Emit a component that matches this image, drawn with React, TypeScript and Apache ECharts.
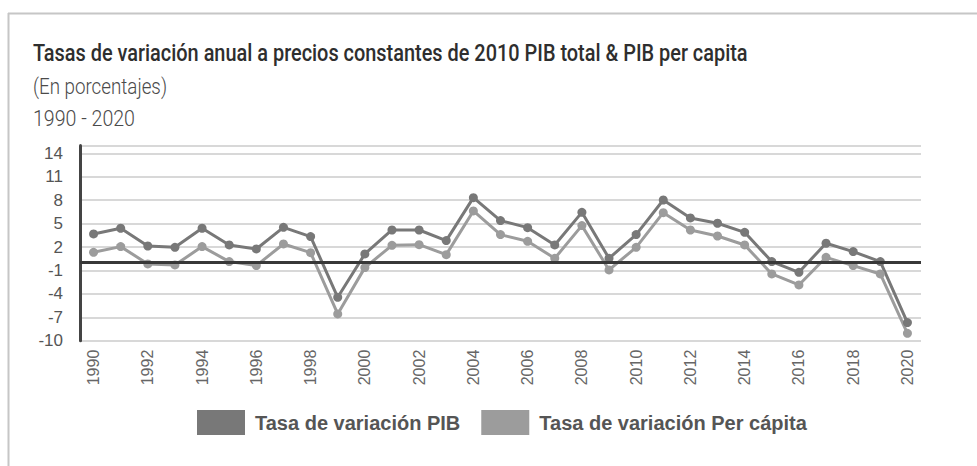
import React, { useEffect, useRef } from "react";
import * as echarts from "echarts";

const years = [
  "1990", "1991", "1992", "1993", "1994", "1995", "1996", "1997", "1998", "1999",
  "2000", "2001", "2002", "2003", "2004", "2005", "2006", "2007", "2008", "2009",
  "2010", "2011", "2012", "2013", "2014", "2015", "2016", "2017", "2018", "2019", "2020",
];
const pib = [
  3.67, 4.4, 2.13, 1.96, 4.4, 2.26, 1.75, 4.52, 3.33, -4.44,
  1.11, 4.18, 4.18, 2.82, 8.32, 5.38, 4.48, 2.26, 6.44, 0.55,
  3.59, 8.02, 5.72, 5.04, 3.88, 0.13, -1.24, 2.48, 1.41, 0.13, -7.68,
];
const perCapita = [
  1.32, 2.05, -0.17, -0.3, 2.05, 0.13, -0.38, 2.39, 1.28, -6.57,
  -0.64, 2.22, 2.3, 1.02, 6.62, 3.59, 2.73, 0.55, 4.74, -0.94,
  1.96, 6.4, 4.18, 3.41, 2.26, -1.45, -2.86, 0.68, -0.38, -1.45, -9.05,
];
const seriesNames = ["Tasa de variación PIB", "Tasa de variación Per cápita"];
const titleText = "Tasas de variación anual a precios constantes de 2010 PIB total & PIB per capita";
const subtitle1 = "(En porcentajes)";
const subtitle2 = "1990 - 2020";

function fitScale(text: string, font: string, target: number): number {
  const c = document.createElement("canvas");
  const ctx = c.getContext("2d");
  if (!ctx) return 1;
  ctx.font = font;
  const w = ctx.measureText(text).width;
  return w > 0 ? target / w : 1;
}

export default function App() {
  const ref = useRef<HTMLDivElement>(null);
  useEffect(() => {
    if (!ref.current) return;
    const chart = echarts.init(ref.current, null, { renderer: "svg" });
    const titleFont = "500 23px Roboto";
    const subFont = "300 22px Roboto";
    const option: any = {
      animation: false,
      backgroundColor: "#ffffff",
      graphic: [
        { type: "line", shape: { x1: 8, y1: 13.5, x2: 977, y2: 13.5 }, style: { stroke: "#c6c6c6", lineWidth: 2 } },
        { type: "line", shape: { x1: 8.5, y1: 13, x2: 8.5, y2: 466 }, style: { stroke: "#c6c6c6", lineWidth: 2 } },
        {
          type: "text", x: 33, y: 53, scaleX: fitScale(titleText, titleFont, 715),
          style: { text: titleText, font: titleFont, fill: "#2e2e2e", verticalAlign: "middle" },
        },
        {
          type: "text", x: 33, y: 86, scaleX: fitScale(subtitle1, subFont, 134),
          style: { text: subtitle1, font: subFont, fill: "#4a4a4a", verticalAlign: "middle" },
        },
        {
          type: "text", x: 33, y: 119, scaleX: fitScale(subtitle2, subFont, 102),
          style: { text: subtitle2, font: subFont, fill: "#4a4a4a", verticalAlign: "middle" },
        },
      ],
      legend: {
        left: 192,
        top: 405,
        itemWidth: 48,
        itemHeight: 25,
        itemGap: 21,
        icon: "rect",
        data: seriesNames,
        textStyle: {
          fontFamily: "Liberation Sans, Arial",
          fontWeight: "bold",
          fontSize: 20,
          color: "#555555",
          padding: [0, 0, 0, 5],
        },
      },
      grid: { left: 80, right: 56, top: 145.5, bottom: 125.3 },
      xAxis: {
        type: "category",
        data: years,
        boundaryGap: true,
        axisLine: { show: false },
        axisTick: { show: false },
        axisLabel: {
          rotate: 90,
          interval: 1,
          fontSize: 16,
          color: "#666666",
          fontFamily: "Liberation Sans, Arial",
          margin: 9,
        },
        splitLine: { show: false },
      },
      yAxis: {
        type: "value",
        min: -10,
        max: 15,
        interval: 3,
        axisLine: { show: true, lineStyle: { color: "#444444", width: 3 } },
        axisTick: { show: false },
        axisLabel: {
          showMaxLabel: false,
          fontSize: 17,
          color: "#555555",
          fontFamily: "Liberation Sans, Arial",
          margin: 17,
        },
        splitLine: { show: true, lineStyle: { color: "#d8d8d8", width: 2 } },
      },
      series: [
        {
          name: seriesNames[0],
          type: "line",
          data: pib,
          symbol: "circle",
          symbolSize: 9,
          itemStyle: { color: "#787878" },
          lineStyle: { color: "#787878", width: 3 },
          markLine: {
            silent: true,
            symbol: ["none", "none"],
            label: { show: false },
            lineStyle: { color: "#383838", width: 3, type: "solid" },
            data: [{ yAxis: 0 }],
          },
        },
        {
          name: seriesNames[1],
          type: "line",
          data: perCapita,
          symbol: "circle",
          symbolSize: 9,
          itemStyle: { color: "#9c9c9c" },
          lineStyle: { color: "#9c9c9c", width: 3 },
        },
      ],
    };
    chart.setOption(option);
    return () => chart.dispose();
  }, []);
  return (
    <div
      ref={ref}
      style={{ position: "fixed", left: 0, top: 0, width: 977, height: 466 }}
    />
  );
}
